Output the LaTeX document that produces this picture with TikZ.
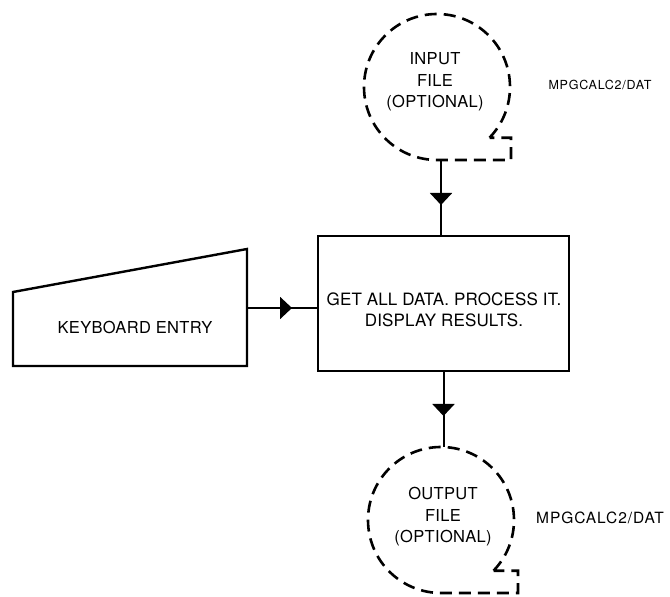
\documentclass[tikz,border=0pt]{standalone}
\usepackage{fontspec}
\setmainfont{TeX Gyre Heros}
\usetikzlibrary{arrows.meta,decorations.markings}

\tikzset{
  flowline/.style={line width=2pt},
  boxline/.style={line width=2.4pt},
  tapeline/.style={line width=2.6pt, dash pattern=on 12pt off 7pt},
  midarrow/.style={flowline, postaction={decorate},
    decoration={markings, mark=at position 45pt with {\arrow{Triangle[length=12pt,width=22pt]}}}},
  filecircle/.style={circle, minimum size=146pt, inner sep=0pt, outer sep=0pt},
  caption/.style={inner sep=0pt, align=center, font=\fontsize{16.5}{21.5}\selectfont\addfontfeature{LetterSpace=2}},
  fname/.style={inner sep=0pt}
}

\begin{document}
\begin{tikzpicture}[x=1pt,y=1pt]
\useasboundingbox (0,0) rectangle (670,597);

% input file (magnetic tape symbol)
\node[filecircle] (infile) at (437,510) {};
\coordinate (intape) at (511,437);
\draw[tapeline] (infile.-44) arc[start angle=-44, end angle=270, radius=73pt]
  -- (intape) -- (intape |- infile.-44) -- cycle;
\node[caption] (intext) at (435,515) {INPUT\\FILE\\(OPTIONAL)};
\node[fname, font=\fontsize{12.5}{15}\selectfont\addfontfeature{LetterSpace=6}] (inname) at (600,512) {MPGCALC2/DAT};

% processing box
\node[draw, boxline, minimum width=251pt, minimum height=135pt, inner sep=0pt, outer sep=0pt] (proc) at (443.5,293.5) {};
\node[caption, font=\fontsize{17}{20.5}\selectfont\addfontfeature{LetterSpace=1}] (proctext) at (444,287) {GET ALL DATA. PROCESS IT.\\DISPLAY RESULTS.};

% keyboard entry
\draw[boxline] (13,231) -- (13,305) -- (247,348) -- (247,231) -- cycle;
\node[caption] (kbd) at (135,270) {KEYBOARD ENTRY};
\coordinate (kbout) at (247,289);

% output file (magnetic tape symbol)
\node[filecircle] (outfile) at (441,77) {};
\coordinate (outtape) at (518,4);
\draw[tapeline] (outfile.-44) arc[start angle=-44, end angle=270, radius=73pt]
  -- (outtape) -- (outtape |- outfile.-44) -- cycle;
\node[caption] (outtext) at (443,80) {OUTPUT\\FILE\\(OPTIONAL)};
\node[fname, font=\fontsize{15.5}{18}\selectfont\addfontfeature{LetterSpace=6}] (outname) at (600,79) {MPGCALC2/DAT};

% connectors
\coordinate (inout) at (441,437);
\draw[midarrow] (inout) -- (inout |- proc.north);
\draw[midarrow] (kbout) -- (kbout -| proc.west);
\draw[midarrow] (proc.south) -- (proc.south |- outfile.north);
\end{tikzpicture}
\end{document}
